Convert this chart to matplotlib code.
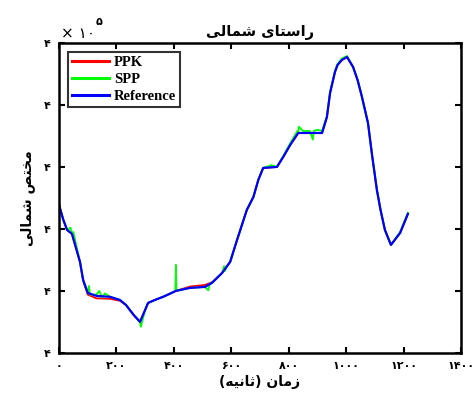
import matplotlib
matplotlib.use('Agg')
import matplotlib.pyplot as plt
from matplotlib.ticker import FuncFormatter

# northing solutions over time: time in seconds, northing in metres
t_ref = [0, 15, 28, 45, 73, 84, 100, 130, 178, 212, 233, 260, 282, 300, 310, 334,
         362, 385, 407, 456, 508, 533, 568, 596, 620, 654, 677, 694, 711, 759, 781,
         805, 833, 874, 916, 933, 944, 961, 970, 985, 1003, 1024, 1040, 1055, 1076,
         1090, 1107, 1120, 1135, 1156, 1188, 1215]
n_ref = [413194, 413073, 412992, 412960, 412734, 412589, 412484, 412460, 412452,
         412427, 412387, 412306, 412250, 412347, 412403, 412427, 412452, 412476,
         412500, 412524, 412532, 412565, 412645, 412734, 412911, 413153, 413258,
         413395, 413492, 413500, 413581, 413677, 413774, 413774, 413774, 413903,
         414097, 414266, 414323, 414363, 414387, 414307, 414200, 414065, 413855,
         413600, 413315, 413150, 412992, 412871, 412968, 413121]

t_ppk = t_ref
n_ppk = [413194, 413073, 412992, 412960, 412734, 412580, 412470, 412440, 412436,
         412420, 412387, 412306, 412250, 412347, 412403, 412427, 412452, 412476,
         412500, 412535, 412548, 412570, 412645, 412734, 412911, 413153, 413258,
         413395, 413492, 413500, 413581, 413677, 413774, 413774, 413774, 413903,
         414097, 414266, 414323, 414363, 414387, 414307, 414200, 414065, 413855,
         413600, 413315, 413150, 412992, 412871, 412968, 413121]

t_spp = [0, 15, 28, 40, 45, 50, 73, 84, 100, 104, 108, 130, 140, 150, 160, 178,
         212, 233, 260, 282, 285, 300, 310, 334, 362, 385, 405, 407, 409, 456, 508,
         520, 525, 533, 568, 575, 578, 582, 596, 620, 654, 677, 694, 711, 740, 759,
         781, 805, 830, 833, 835, 850, 874, 884, 887, 900, 916, 933, 944, 961, 970,
         985, 1003, 1024, 1040, 1055, 1076, 1090, 1107, 1120, 1135, 1156, 1188, 1215]
n_spp = [413194, 413073, 412992, 413010, 412960, 412975, 412734, 412589, 412484,
         412540, 412470, 412470, 412500, 412445, 412480, 412452, 412427, 412387,
         412306, 412250, 412210, 412347, 412403, 412427, 412452, 412476, 412500,
         412710, 412500, 412524, 412532, 412505, 412560, 412565, 412645, 412700,
         412660, 412690, 412734, 412911, 413153, 413258, 413395, 413492, 413515,
         413500, 413590, 413690, 413790, 413774, 413825, 413790, 413790, 413720,
         413790, 413800, 413790, 413910, 414105, 414275, 414330, 414375, 414395,
         414307, 414200, 414065, 413855, 413600, 413315, 413150, 412992, 412871,
         412975, 413130]

x_ticks = [0, 200, 400, 600, 800, 1000, 1200, 1400]
y_ticks = [412000, 412500, 413000, 413500, 414000, 414500]

title_text = 'راستای شمالی'
xlabel_text = 'زمان (ثانیه)'
ylabel_text = 'مختص شمالی'

# contextual forms: isolated, final, initial, medial
FORMS = {
    'ا': ('\uFE8D', '\uFE8E'),
    'ر': ('\uFEAD', '\uFEAE'),
    'ز': ('\uFEAF', '\uFEB0'),
    'ت': ('\uFE95', '\uFE96', '\uFE97', '\uFE98'),
    'ث': ('\uFE99', '\uFE9A', '\uFE9B', '\uFE9C'),
    'خ': ('\uFEA5', '\uFEA6', '\uFEA7', '\uFEA8'),
    'س': ('\uFEB1', '\uFEB2', '\uFEB3', '\uFEB4'),
    'ش': ('\uFEB5', '\uFEB6', '\uFEB7', '\uFEB8'),
    'ص': ('\uFEB9', '\uFEBA', '\uFEBB', '\uFEBC'),
    'ل': ('\uFEDD', '\uFEDE', '\uFEDF', '\uFEE0'),
    'م': ('\uFEE1', '\uFEE2', '\uFEE3', '\uFEE4'),
    'ن': ('\uFEE5', '\uFEE6', '\uFEE7', '\uFEE8'),
    'ه': ('\uFEE9', '\uFEEA', '\uFEEB', '\uFEEC'),
    'ی': ('\uFEEF', '\uFEF0', '\uFEF3', '\uFEF4'),
}
MIRROR = {'(': ')', ')': '('}
FA_DIGITS = str.maketrans('0123456789', '۰۱۲۳۴۵۶۷۸۹')


def shape(text):
    out = []
    for i, c in enumerate(text):
        if c not in FORMS:
            out.append(MIRROR.get(c, c))
            continue
        prev = text[i - 1] if i > 0 else ''
        nxt = text[i + 1] if i + 1 < len(text) else ''
        joins_prev = prev in FORMS and len(FORMS[prev]) == 4
        joins_next = len(FORMS[c]) == 4 and nxt in FORMS
        f = FORMS[c]
        if joins_prev and joins_next:
            out.append(f[3])
        elif joins_prev:
            out.append(f[1])
        elif joins_next:
            out.append(f[2])
        else:
            out.append(f[0])
    return ''.join(reversed(out))


fa_font = {'family': 'DejaVu Sans', 'weight': 'bold'}

fig = plt.figure(figsize=(4.76, 4.01), dpi=100)
ax = fig.add_axes([0.124, 0.12, 0.8445, 0.7728])

ax.plot(t_ppk, n_ppk, color='#ff0000', lw=1.3, label='PPK')
ax.plot(t_spp, n_spp, color='#00ff00', lw=1.3, label='SPP')
ax.plot(t_ref, n_ref, color='#0000ff', lw=1.6, label='Reference')

ax.set_xlim(0, 1400)
ax.set_ylim(412000, 414500)
ax.set_xticks(x_ticks)
ax.set_yticks(y_ticks)
ax.xaxis.set_major_formatter(FuncFormatter(lambda v, p: str(int(v)).translate(FA_DIGITS)))
ax.yaxis.set_major_formatter(FuncFormatter(lambda v, p: str(int(round(v / 1e5))).translate(FA_DIGITS)))
ax.tick_params(direction='in', top=True, right=True, length=4, width=1.5, pad=6)
for lab in ax.get_xticklabels() + ax.get_yticklabels():
    lab.set_fontproperties(fa_font)
    lab.set_fontsize(8)
for s in ax.spines.values():
    s.set_linewidth(1.8)

ax.set_title(shape(title_text), fontdict=fa_font, fontsize=10.5, pad=5)
ax.set_xlabel(shape(xlabel_text), fontdict=fa_font, fontsize=10, labelpad=3)
ax.set_ylabel(shape(ylabel_text), fontdict=fa_font, fontsize=10, labelpad=6)

# exponent label above the y axis
ax.text(0.006, 1.008, '× ' + '10'.translate(FA_DIGITS), transform=ax.transAxes,
        ha='left', va='bottom', fontsize=11, family='DejaVu Sans')
ax.text(0.092, 1.05, '5'.translate(FA_DIGITS), transform=ax.transAxes,
        ha='left', va='bottom', fontsize=8, family='DejaVu Sans', weight='bold')

leg = ax.legend(loc='upper left', prop={'family': 'Liberation Serif', 'weight': 'bold', 'size': 10.5},
                frameon=True, fancybox=False, edgecolor='black', handlelength=2.5,
                handletextpad=0.35, borderpad=0.3, labelspacing=0.25, borderaxespad=0.6)
leg.get_frame().set_linewidth(1.5)
for line in leg.get_lines():
    line.set_linewidth(2.2)

fig.savefig('out.png', dpi=100)
